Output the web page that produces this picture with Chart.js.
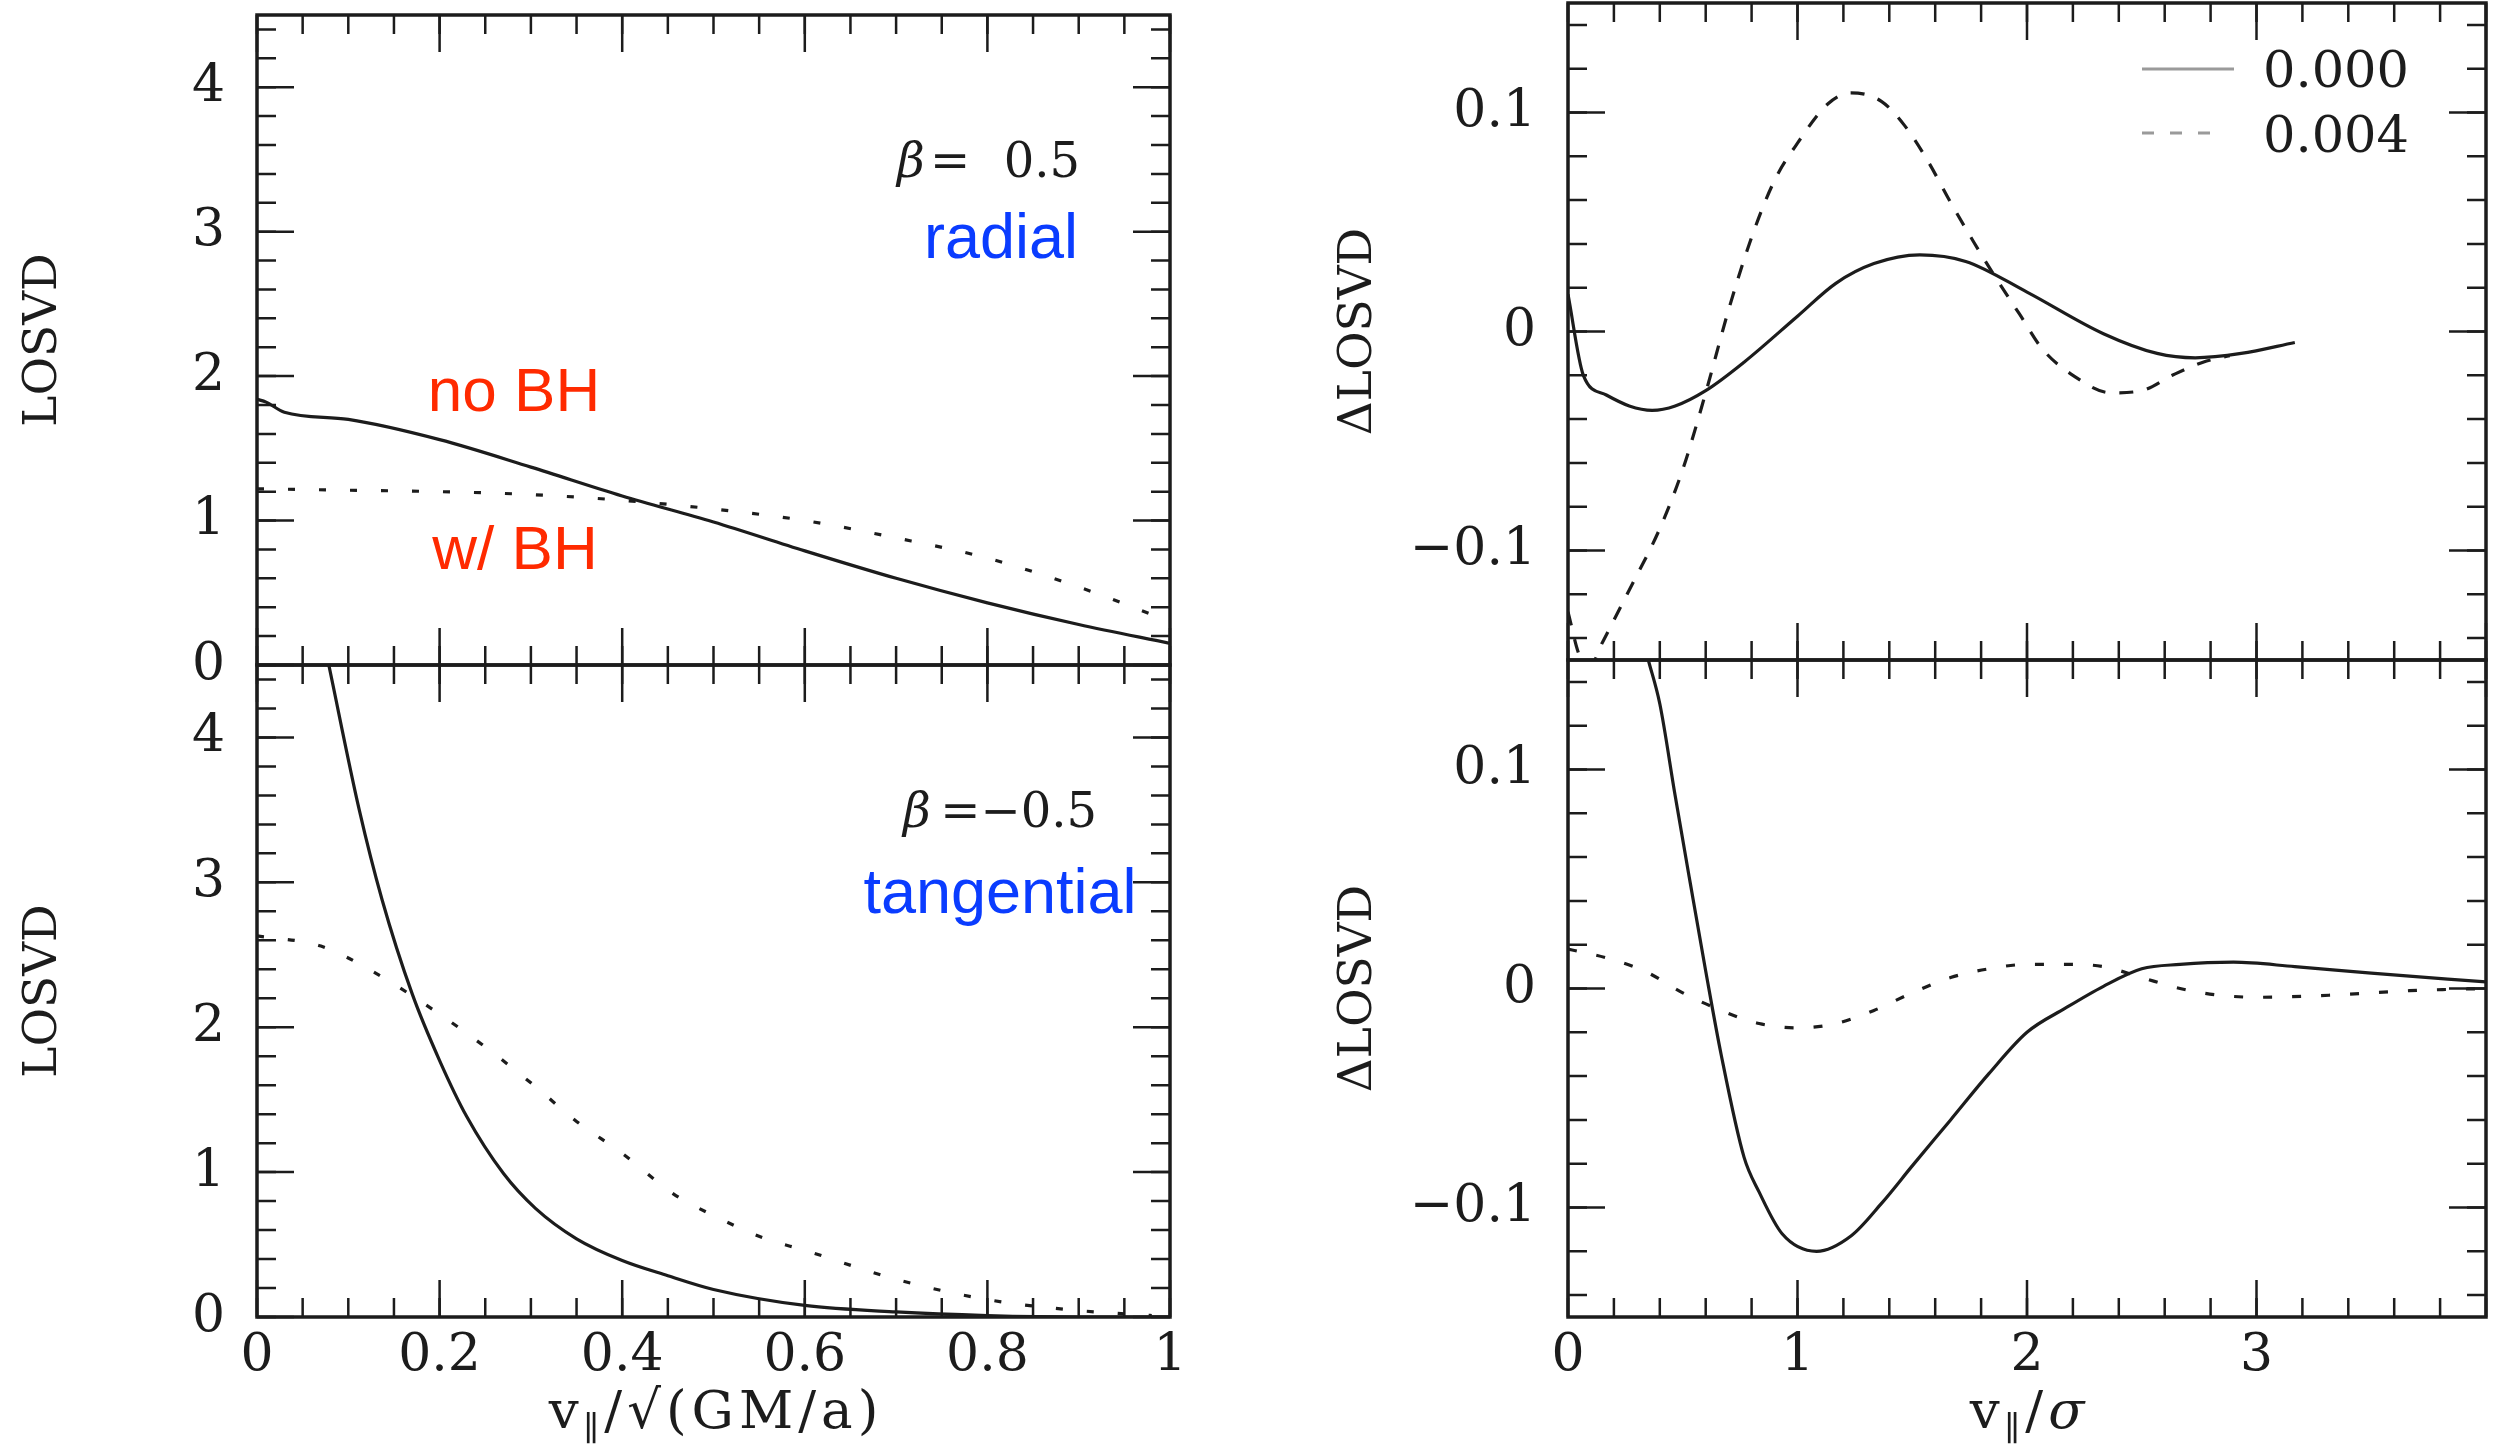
<!DOCTYPE html>
<html>
<head>
<meta charset="utf-8">
<script src="https://cdn.jsdelivr.net/npm/chart.js@4.4.1/dist/chart.umd.min.js"></script>
<style>
  html, body { margin: 0; padding: 0; background: #fff; }
  #wrap { position: relative; width: 2501px; height: 1445px; overflow: hidden; }
  #wrap canvas { position: absolute; left: 0; top: 0; }
</style>
</head>
<body>
<div id="wrap">
  <canvas id="lt" width="2501" height="1445"></canvas>
  <canvas id="lb" width="2501" height="1445"></canvas>
  <canvas id="rt" width="2501" height="1445"></canvas>
  <canvas id="rb" width="2501" height="1445"></canvas>
</div>
<script>
// ---- values ----
// top left, beta = 0.5 (radial)
const ltNoBhX = [0, 0.01, 0.03, 0.1, 0.2, 0.3, 0.4, 0.5, 0.6, 0.7, 0.8, 0.9, 1.0];
const ltNoBhY = [1.84, 1.82, 1.75, 1.70, 1.56, 1.37, 1.17, 0.99, 0.79, 0.60, 0.43, 0.28, 0.15];
const ltBhX = [0, 0.1, 0.2, 0.3, 0.4, 0.5, 0.6, 0.7, 0.8, 0.9, 0.98];
const ltBhY = [1.22, 1.21, 1.20, 1.18, 1.14, 1.08, 1.0, 0.88, 0.74, 0.54, 0.35];

// bottom left, beta = -0.5 (tangential)
const lbNoBhX = [0.078, 0.112, 0.137, 0.17, 0.2, 0.23, 0.27, 0.305, 0.35, 0.4, 0.45, 0.5, 0.6, 0.7, 0.8, 0.9, 1.0];
const lbNoBhY = [4.52, 3.50, 2.88, 2.23, 1.77, 1.38, 0.99, 0.75, 0.54, 0.39, 0.285, 0.19, 0.08, 0.035, 0.01, 0.0, 0.0];
const lbBhX = [0, 0.07, 0.128, 0.2, 0.255, 0.305, 0.35, 0.4, 0.456, 0.5, 0.557, 0.6, 0.7, 0.8, 0.89, 0.98];
const lbBhY = [2.63, 2.56, 2.38, 2.09, 1.84, 1.59, 1.35, 1.13, 0.85, 0.70, 0.54, 0.46, 0.26, 0.12, 0.05, 0.01];

// top right, delta LOSVD
const rtZeroX = [0, 0.067, 0.167, 0.267, 0.367, 0.467, 0.6, 0.767, 1.0, 1.167, 1.333, 1.533, 1.733, 2.0, 2.333, 2.567, 2.733, 2.933, 3.167];
const rtZeroY = [0.017, -0.020, -0.029, -0.034, -0.036, -0.034, -0.027, -0.014, 0.007, 0.022, 0.031, 0.035, 0.032, 0.018, -0.001, -0.010, -0.012, -0.010, -0.005];
const rtFourX = [0, 0.05, 0.1, 0.15, 0.267, 0.4, 0.5, 0.6, 0.7, 0.8, 0.9, 1.0, 1.133, 1.233, 1.367, 1.467, 1.567, 1.667, 1.767, 1.867, 1.967, 2.067, 2.2, 2.367, 2.5, 2.633, 2.767, 2.883];
const rtFourY = [-0.128, -0.148, -0.152, -0.142, -0.118, -0.090, -0.063, -0.028, 0.010, 0.043, 0.069, 0.086, 0.104, 0.109, 0.105, 0.094, 0.078, 0.059, 0.041, 0.024, 0.008, -0.008, -0.020, -0.028, -0.027, -0.020, -0.014, -0.011];

// bottom right, delta LOSVD
const rbZeroX = [0.35, 0.4, 0.467, 0.533, 0.6, 0.667, 0.767, 0.833, 0.933, 1.083, 1.233, 1.367, 1.5, 1.667, 1.833, 2.0, 2.167, 2.333, 2.5, 2.667, 2.9, 3.167, 3.5, 4.0];
const rbZeroY = [0.15, 0.13, 0.088, 0.048, 0.008, -0.030, -0.077, -0.093, -0.112, -0.120, -0.113, -0.098, -0.081, -0.060, -0.039, -0.020, -0.009, 0.001, 0.009, 0.011, 0.012, 0.010, 0.007, 0.003];
const rbFourX = [0, 0.167, 0.333, 0.5, 0.667, 0.833, 1.0, 1.167, 1.333, 1.5, 1.667, 1.833, 2.0, 2.167, 2.333, 2.5, 2.667, 2.833, 3.0, 3.333, 3.667, 4.0];
const rbFourY = [0.018, 0.014, 0.008, -0.002, -0.010, -0.016, -0.018, -0.016, -0.010, -0.002, 0.005, 0.009, 0.011, 0.011, 0.010, 0.005, 0.000, -0.003, -0.004, -0.003, -0.001, 0.0];

// tick labels
const leftXLabels = [0, 0.2, 0.4, 0.6, 0.8, 1];
const leftYLabels = [0, 1, 2, 3, 4];
const rightXLabels = [0, 1, 2, 3];
const rightYLabels = [-0.1, 0, 0.1];
const legendLabels = ['0.000', '0.004'];

// ---- drawing ----
const W = 2501, H = 1445;
const SERIF = '"DejaVu Serif", serif';
const SANS = '"Liberation Sans", Arial, sans-serif';
const INK = '#1c1c1c';
const RED = '#ff2a00';
const BLUE = '#0a3cff';

function pts(xs, ys) {
  return xs.map((x, i) => ({ x: x, y: ys[i] }));
}

function fmt(v) {
  return v < 0 ? '\u2212' + String(-v) : String(v);
}

// frame, inward ticks on all four sides, axis titles, notes and legend
const paperFrame = {
  id: 'paperFrame',
  afterDatasetsDraw(chart, args, o) {
    const ctx = chart.ctx;
    const a = chart.chartArea;
    const xs = chart.scales.x, ys = chart.scales.y;
    ctx.save();
    ctx.strokeStyle = INK;
    ctx.lineWidth = 2.5;
    const marks = (scale, step, len) => {
      const first = Math.ceil(scale.min / step - 1e-6);
      const last = Math.floor(scale.max / step + 1e-6);
      for (let i = first; i <= last; i++) {
        const p = scale.getPixelForValue(i * step);
        ctx.beginPath();
        if (scale.isHorizontal()) {
          ctx.moveTo(p, a.bottom); ctx.lineTo(p, a.bottom - len);
          ctx.moveTo(p, a.top); ctx.lineTo(p, a.top + len);
        } else {
          ctx.moveTo(a.left, p); ctx.lineTo(a.left + len, p);
          ctx.moveTo(a.right, p); ctx.lineTo(a.right - len, p);
        }
        ctx.stroke();
      }
    };
    marks(xs, o.xMinor, 19);
    marks(xs, o.xMajor, 37);
    marks(ys, o.yMinor, 19);
    marks(ys, o.yMajor, 37);
    ctx.lineWidth = 3.5;
    ctx.strokeRect(a.left, a.top, a.right - a.left, a.bottom - a.top);

    ctx.fillStyle = INK;
    // y title, rotated
    ctx.save();
    ctx.translate(o.yTitleX, (a.top + a.bottom) / 2);
    ctx.rotate(-Math.PI / 2);
    ctx.font = '47px ' + SERIF;
    ctx.textAlign = 'center';
    ctx.textBaseline = 'middle';
    ctx.fillText(o.yTitle, 0, 0);
    ctx.restore();

    // x title with subscript, drawn char by char with a little extra spacing
    if (o.xTitle) {
      const gap = 5;
      const fontOf = p => (p.italic ? 'italic ' : '') + (p.sub ? '34px ' : '53px ') + SERIF;
      const chars = [];
      o.xTitle.forEach(p => Array.from(p.t).forEach(c => chars.push({ c: c, p: p })));
      let total = 0;
      chars.forEach(ch => { ctx.font = fontOf(ch.p); total += ctx.measureText(ch.c).width + gap; });
      total -= gap;
      let x = (a.left + a.right) / 2 - total / 2;
      ctx.textAlign = 'left';
      ctx.textBaseline = 'alphabetic';
      chars.forEach(ch => {
        ctx.font = fontOf(ch.p);
        ctx.fillText(ch.c, x, o.xTitleY + (ch.p.sub ? 12 : 0));
        x += ctx.measureText(ch.c).width + gap;
      });
    }

    // text notes
    (o.notes || []).forEach(n => {
      ctx.font = (n.italic ? 'italic ' : '') + n.size + 'px ' + n.family;
      ctx.fillStyle = n.color;
      ctx.textAlign = n.align;
      ctx.textBaseline = 'alphabetic';
      ctx.fillText(n.text, n.x, n.y);
    });

    // legend
    (o.legend || []).forEach((g, i) => {
      const ds = chart.data.datasets[i];
      ctx.strokeStyle = '#9a9a9a';
      ctx.lineWidth = 3;
      ctx.setLineDash(g.dash);
      ctx.beginPath();
      ctx.moveTo(g.x0, g.y); ctx.lineTo(g.x1, g.y);
      ctx.stroke();
      ctx.setLineDash([]);
      ctx.fillStyle = INK;
      ctx.font = '51px ' + SERIF;
      ctx.textAlign = 'left';
      ctx.textBaseline = 'alphabetic';
      ctx.fillText(ds.label, g.tx, g.ty);
    });
    ctx.restore();
  }
};

function makeChart(id, box, cfg) {
  const showX = !!cfg.xLabels;
  const zeroPad = s => { s.paddingTop = 0; s.paddingBottom = 0; s.paddingLeft = 0; s.paddingRight = 0; };
  return new Chart(document.getElementById(id), {
    type: 'line',
    data: {
      datasets: cfg.series.map(s => ({
        label: s.label,
        data: s.data,
        borderColor: INK,
        borderWidth: 3.2,
        borderDash: s.dash,
        pointRadius: 0,
        fill: false,
        cubicInterpolationMode: 'monotone'
      }))
    },
    options: {
      responsive: false,
      animation: false,
      devicePixelRatio: 1,
      parsing: false,
      layout: { padding: { left: 0, top: box.t, right: W - box.r, bottom: showX ? 0 : H - box.b } },
      plugins: {
        legend: { display: false },
        tooltip: { enabled: false },
        paperFrame: cfg.frame
      },
      scales: {
        x: {
          type: 'linear',
          min: cfg.xMin, max: cfg.xMax,
          display: showX,
          grid: { display: false, drawTicks: false },
          border: { display: false },
          afterBuildTicks: s => { if (showX) s.ticks = cfg.xLabels.map(v => ({ value: v })); },
          afterFit: s => { s.height = showX ? H - box.b : 0; zeroPad(s); },
          ticks: {
            font: { family: SERIF, size: 52 },
            color: INK,
            padding: 8,
            maxRotation: 0,
            autoSkip: false,
            callback: fmt
          }
        },
        y: {
          type: 'linear',
          min: cfg.yMin, max: cfg.yMax,
          grid: { display: false, drawTicks: false },
          border: { display: false },
          afterBuildTicks: s => { s.ticks = cfg.yLabels.map(v => ({ value: v })); },
          afterFit: s => { s.width = box.l; zeroPad(s); },
          ticks: {
            font: { family: SERIF, size: 52 },
            color: INK,
            padding: 32,
            autoSkip: false,
            callback: fmt
          }
        }
      }
    },
    plugins: [paperFrame]
  });
}

const DOT = [7, 24];
const DASH = [14, 14];

makeChart('lt', { l: 257, t: 15, r: 1170, b: 665 }, {
  xMin: 0, xMax: 1, yMin: 0, yMax: 4.5,
  xLabels: null, yLabels: leftYLabels,
  series: [
    { label: 'no BH', data: pts(ltNoBhX, ltNoBhY), dash: [] },
    { label: 'w/ BH', data: pts(ltBhX, ltBhY), dash: DOT }
  ],
  frame: {
    xMinor: 0.05, xMajor: 0.2, yMinor: 0.2, yMajor: 1,
    yTitle: 'LOSVD', yTitleX: 44,
    notes: [
      { text: '\u03b2', x: 897, y: 177, size: 48, family: SERIF, color: INK, align: 'left', italic: true },
      { text: '=', x: 930, y: 177, size: 48, family: SERIF, color: INK, align: 'left' },
      { text: '0.5', x: 1080, y: 177, size: 48, family: SERIF, color: INK, align: 'right' },
      { text: 'radial', x: 1001, y: 258, size: 63, family: SANS, color: BLUE, align: 'center' },
      { text: 'no BH', x: 514, y: 411, size: 62, family: SANS, color: RED, align: 'center' },
      { text: 'w/ BH', x: 515, y: 569, size: 62, family: SANS, color: RED, align: 'center' }
    ]
  }
});

makeChart('lb', { l: 257, t: 665, r: 1170, b: 1317 }, {
  xMin: 0, xMax: 1, yMin: 0, yMax: 4.5,
  xLabels: leftXLabels, yLabels: leftYLabels,
  series: [
    { label: 'no BH', data: pts(lbNoBhX, lbNoBhY), dash: [] },
    { label: 'w/ BH', data: pts(lbBhX, lbBhY), dash: DOT }
  ],
  frame: {
    xMinor: 0.05, xMajor: 0.2, yMinor: 0.2, yMajor: 1,
    yTitle: 'LOSVD', yTitleX: 44,
    xTitle: [{ t: 'v' }, { t: '\u2225', sub: true }, { t: '/\u221a(GM/a)' }], xTitleY: 1428,
    notes: [
      { text: '\u03b2', x: 903, y: 827, size: 48, family: SERIF, color: INK, align: 'left', italic: true },
      { text: '=\u22120.5', x: 1097, y: 827, size: 48, family: SERIF, color: INK, align: 'right' },
      { text: 'tangential', x: 1000, y: 913, size: 63, family: SANS, color: BLUE, align: 'center' }
    ]
  }
});

makeChart('rt', { l: 1568, t: 3, r: 2486, b: 660 }, {
  xMin: 0, xMax: 4, yMin: -0.15, yMax: 0.15,
  xLabels: null, yLabels: rightYLabels,
  series: [
    { label: legendLabels[0], data: pts(rtZeroX, rtZeroY), dash: [] },
    { label: legendLabels[1], data: pts(rtFourX, rtFourY), dash: DASH }
  ],
  frame: {
    xMinor: 0.2, xMajor: 1, yMinor: 0.02, yMajor: 0.1,
    yTitle: '\u0394LOSVD', yTitleX: 1359,
    legend: [
      { x0: 2142, x1: 2234, y: 69, tx: 2263, ty: 87, dash: [] },
      { x0: 2142, x1: 2217, y: 133, tx: 2263, ty: 152, dash: [12, 16] }
    ]
  }
});

makeChart('rb', { l: 1568, t: 660, r: 2486, b: 1317 }, {
  xMin: 0, xMax: 4, yMin: -0.15, yMax: 0.15,
  xLabels: rightXLabels, yLabels: rightYLabels,
  series: [
    { label: legendLabels[0], data: pts(rbZeroX, rbZeroY), dash: [] },
    { label: legendLabels[1], data: pts(rbFourX, rbFourY), dash: [9, 20] }
  ],
  frame: {
    xMinor: 0.2, xMajor: 1, yMinor: 0.02, yMajor: 0.1,
    yTitle: '\u0394LOSVD', yTitleX: 1359,
    xTitle: [{ t: 'v' }, { t: '\u2225', sub: true }, { t: '/' }, { t: '\u03c3', italic: true }], xTitleY: 1428
  }
});
</script>
</body>
</html>
